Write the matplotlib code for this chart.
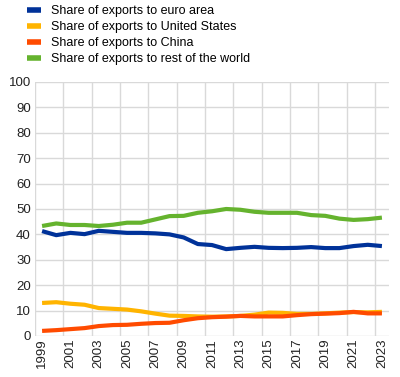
import matplotlib
matplotlib.use("Agg")
import matplotlib.pyplot as plt
import numpy as np

years = list(range(1999, 2024))
euro_area = [41.3, 39.7, 40.6, 40.1, 41.4, 41.0, 40.6, 40.6, 40.4, 40.0, 38.8, 36.2,
             35.8, 34.2, 34.7, 35.1, 34.7, 34.6, 34.7, 35.0, 34.6, 34.6, 35.4, 35.9, 35.4]
united_states = [13.0, 13.3, 12.7, 12.3, 11.0, 10.7, 10.4, 9.7, 8.8, 8.0, 7.9, 7.7,
                 7.6, 7.7, 7.9, 8.4, 9.2, 9.1, 8.7, 8.7, 8.9, 9.2, 9.4, 9.3, 9.5]
china = [2.0, 2.3, 2.7, 3.1, 3.9, 4.3, 4.4, 4.8, 5.1, 5.2, 6.2, 7.0,
         7.4, 7.6, 7.9, 7.7, 7.7, 7.7, 8.2, 8.6, 8.8, 9.0, 9.5, 8.9, 8.9]
rest_of_world = [43.3, 44.3, 43.7, 43.7, 43.3, 43.8, 44.6, 44.6, 45.9, 47.2, 47.3, 48.5,
                 49.1, 50.0, 49.7, 48.9, 48.5, 48.5, 48.5, 47.6, 47.3, 46.2, 45.7, 46.0, 46.6]

series = [
    ("Share of exports to euro area", euro_area, "#003299"),
    ("Share of exports to United States", united_states, "#FFB400"),
    ("Share of exports to China", china, "#FF4B00"),
    ("Share of exports to rest of the world", rest_of_world, "#65B32E"),
]

plt.rcParams['font.family'] = ['Liberation Sans', 'DejaVu Sans']

fig = plt.figure(figsize=(4.0, 3.77), dpi=100)
ax = fig.add_axes([0.0875, 0.1088, 0.885, 0.6737])

x = np.arange(len(years))
handles = []
for label, vals, color in series:
    h, = ax.plot(x, vals, color=color, lw=3.0, solid_capstyle='butt', label=label, zorder=3)
    handles.append(h)

ax.set_xlim(-0.5, len(years) - 0.5)
ax.set_ylim(0, 100)
ax.set_yticks(range(0, 101, 10))
ax.set_xticks(x[::2])
ax.set_xticklabels([str(y) for y in years[::2]], rotation=90)
ax.set_xticks(np.arange(-0.5, len(years) - 1, 2), minor=True)

ax.grid(False)
ax.grid(axis='y', which='major', color='#d9d9d9', lw=1)
ax.grid(axis='x', which='minor', color='#d9d9d9', lw=1)
for s in ax.spines.values():
    s.set_visible(False)
ax.tick_params(axis='both', which='both', length=0, labelsize=9.5, colors='#222222')
ax.tick_params(axis='y', pad=3)
ax.tick_params(axis='x', pad=2)

leg = fig.legend(handles=handles, loc='upper left', bbox_to_anchor=(0.055, 1.0),
                 frameon=False, fontsize=9, handlelength=1.1, handletextpad=0.8,
                 labelspacing=0.33, borderaxespad=0.0)
for lh in leg.get_lines():
    lh.set_linewidth(4)

fig.savefig("out.png", dpi=100)
